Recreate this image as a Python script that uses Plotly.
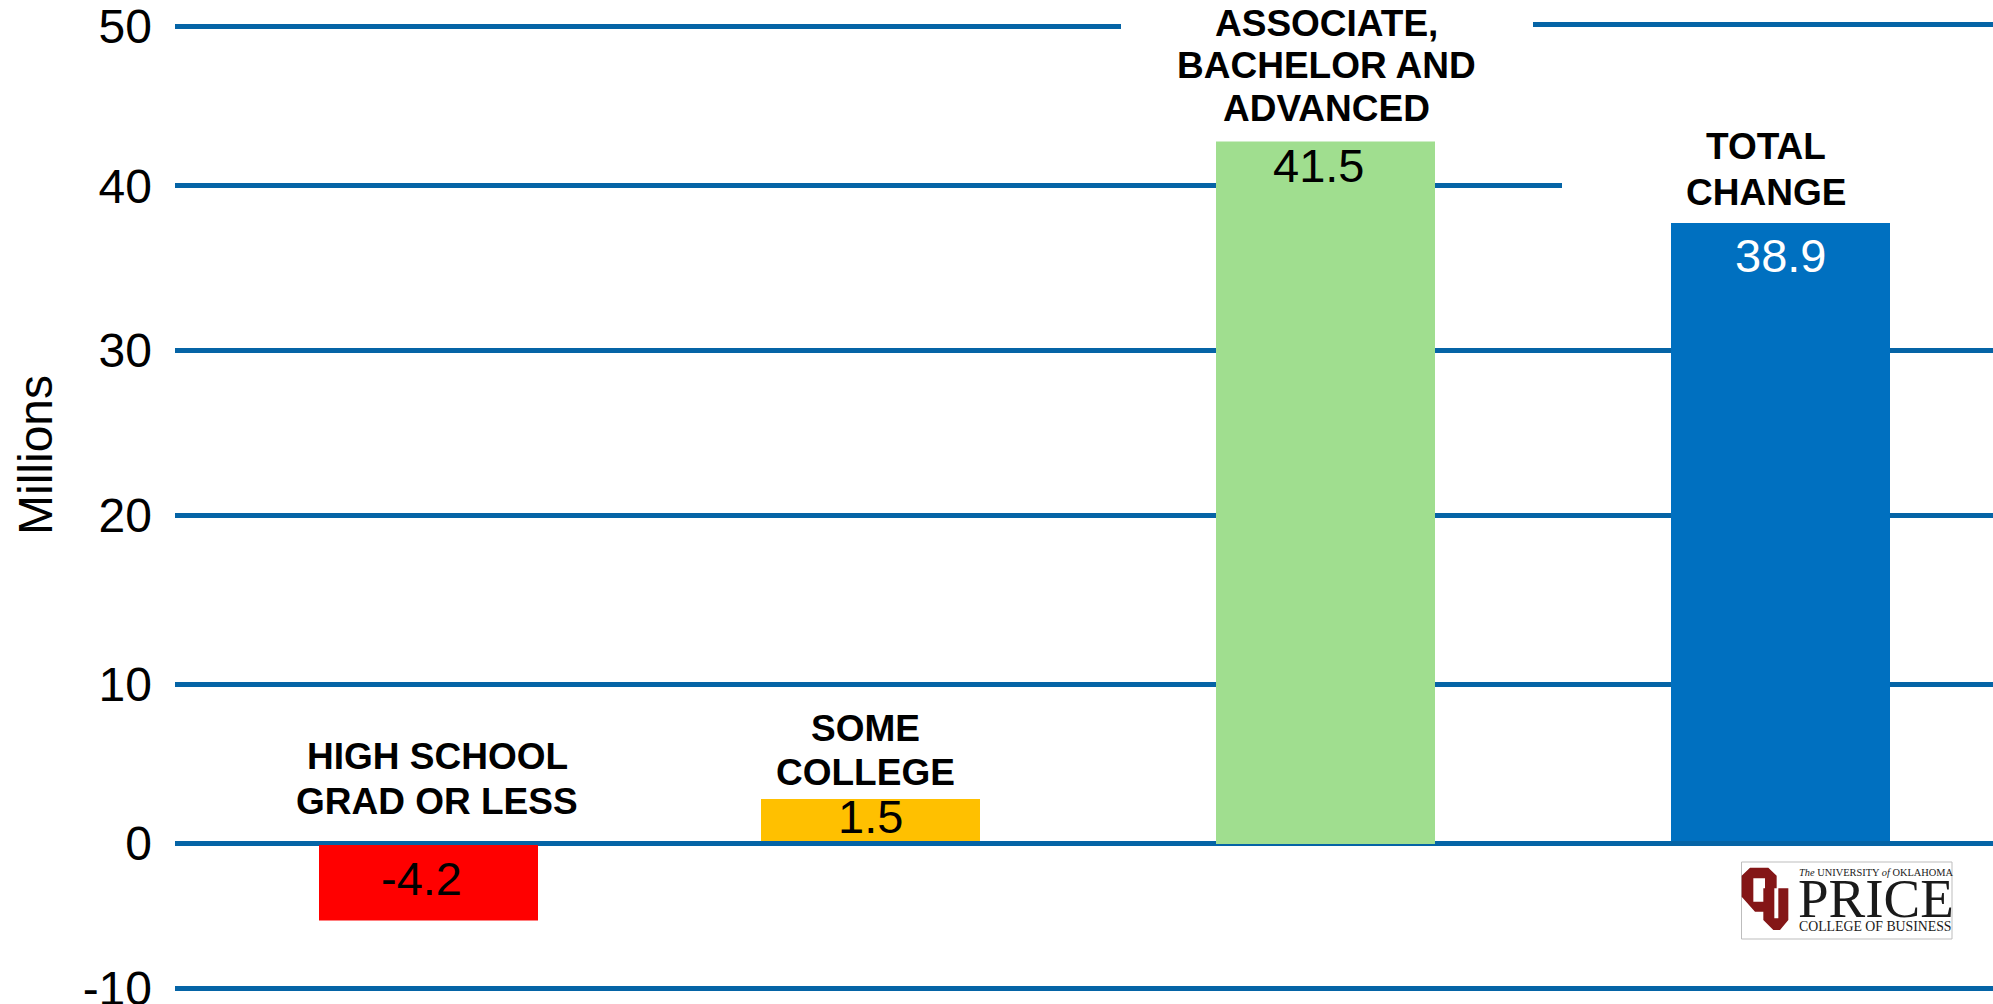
import plotly.graph_objects as go

# Values as printed on the slide, and the heights the bars are actually drawn to
# (the slide's bars and gridlines do not line up exactly with its printed numbers).
categories = ['High school', 'Some college', 'Associate plus', 'Total']
value_labels = ['-4.2', '1.5', '41.5', '38.9']
bar_heights = [-4.63, 2.57, 42.99, 37.82]
bar_bases = [-0.09, 0.15, -0.03, 0.15]
bar_colors = ['#FF0000', '#FFC000', '#A0DE8F', '#0070C0']
value_colors = ['black', 'black', 'black', 'white']
label_lines = [
    ['HIGH SCHOOL', 'GRAD OR LESS'],
    ['SOME', 'COLLEGE'],
    ['ASSOCIATE,', 'BACHELOR AND', 'ADVANCED'],
    ['TOTAL', 'CHANGE'],
]

# The gridlines on the slide are unevenly spaced.
tick_labels = ['-10', '0', '10', '20', '30', '40', '50']
tick_positions = [-8.87, 0, 9.75, 20.1, 30.2, 40.25, 50]

WIDTH, HEIGHT = 1993, 1004
LEFT = 175
ZERO_PX = 843.5
PX_PER_UNIT = 16.34
CAT_STEP = 455
CAT_ZERO_PX = 415.5
BAR_WIDTH = 219 / CAT_STEP
FONT = 'Liberation Sans'
SERIF = 'Liberation Serif'
GRID = '#0564A6'
LOGO_RED = '#841617'


def px_x(x):
    return (x - LEFT) / (WIDTH - LEFT)


def px_y(y):
    return 1 - y / HEIGHT


def val_y(y):
    return (ZERO_PX - y) / PX_PER_UNIT


def logo_path(*rings):
    # Rings are in 1/3 pixel units, measured from the logo's corner.
    parts = []
    for ring in rings:
        pts = [f'{px_x(1735 + x / 3):.5f},{px_y(855 + y / 3):.5f}' for x, y in ring]
        parts.append('M ' + ' L '.join(pts) + ' Z')
    return ' '.join(parts)


# Bar 0 sits 13px to the right of the even category spacing.
offsets = [-BAR_WIDTH / 2 + 13 / CAT_STEP, -BAR_WIDTH / 2, -BAR_WIDTH / 2, -BAR_WIDTH / 2]

fig = go.Figure(
    go.Bar(
        x=categories,
        y=bar_heights,
        base=bar_bases,
        width=BAR_WIDTH,
        offset=offsets,
        marker=dict(color=bar_colors, line=dict(width=0)),
        showlegend=False,
        hoverinfo='skip',
    )
)

# Printed values, shifted in pixels from the top of each bar.
value_px = [(421, 878), (870, 816), (1318, 165), (1780, 255)]
for i, text in enumerate(value_labels):
    fig.add_annotation(
        xref='x', yref='y', x=categories[i], y=val_y(value_px[i][1]),
        xshift=value_px[i][0] - (CAT_ZERO_PX + CAT_STEP * i),
        text=text, showarrow=False,
        font=dict(family=FONT, size=47, color=value_colors[i]),
    )

# Bold category labels, one annotation per line for the tight leading.
label_px = [(437, [756, 801]), (865, [728, 772]), (1326, [23, 65, 108]), (1766, [146, 192])]
for i, lines in enumerate(label_lines):
    for line, y in zip(lines, label_px[i][1]):
        fig.add_annotation(
            xref='x', yref='y', x=categories[i], y=val_y(y),
            xshift=label_px[i][0] - (CAT_ZERO_PX + CAT_STEP * i),
            text=f'<b>{line}</b>', showarrow=False,
            font=dict(family=FONT, size=37, color='black'),
        )

# Axis title sits above the middle of the axis on the slide.
fig.add_annotation(
    xref='paper', yref='paper', x=px_x(35), y=px_y(455), xanchor='center', yanchor='middle',
    textangle=-90, text='Millions', showarrow=False,
    font=dict(family=FONT, size=48, color='black'),
)

shapes = [
    # White text boxes on the slide that cut the two top gridlines.
    dict(type='rect', xref='paper', yref='y', x0=px_x(1121), x1=1, y0=49.6, y1=50.6,
         fillcolor='white', line=dict(width=0)),
    dict(type='rect', xref='paper', yref='y', x0=px_x(1562), x1=1, y0=39.9, y1=40.6,
         fillcolor='white', line=dict(width=0)),
    dict(type='line', xref='paper', yref='y', x0=px_x(1533), x1=1, y0=50.13, y1=50.13,
         line=dict(color=GRID, width=5)),
    # Logo box and monogram.
    dict(type='rect', xref='paper', yref='paper', x0=px_x(1741.5), x1=px_x(1952),
         y0=px_y(939), y1=px_y(862), fillcolor='white', line=dict(color='#BDBDBD', width=1)),
    dict(type='path', xref='paper', yref='paper', fillcolor=LOGO_RED, line=dict(width=0),
         path=logo_path(
             [(45, 38), (100, 38), (125, 62), (125, 100), (118, 100), (118, 190), (130, 190),
              (130, 100), (160, 100), (160, 195), (135, 225), (115, 225), (85, 195), (85, 170),
              (60, 170), (20, 125), (20, 62)],
             [(55, 70), (55, 140), (85, 140), (85, 100), (90, 100), (90, 70)],
         )),
]

logo_texts = [
    ('<i>The</i> UNIVERSITY <i>of</i> OKLAHOMA', 1798, 872, 10.4),
    ('PRICE', 1797, 898, 55),
    ('COLLEGE OF BUSINESS', 1798, 926, 13.8),
]
for text, x, y, size in logo_texts:
    fig.add_annotation(
        xref='paper', yref='paper', x=px_x(x), y=px_y(y), xanchor='left', yanchor='middle',
        text=text, showarrow=False, borderpad=0,
        font=dict(family=SERIF, size=size, color='#1a1a1a'),
    )

fig.update_layout(
    width=WIDTH,
    height=HEIGHT,
    plot_bgcolor='white',
    paper_bgcolor='white',
    margin=dict(t=0, r=0, b=0, l=LEFT, pad=0),
    font=dict(family=FONT, size=48, color='black'),
    shapes=shapes,
    xaxis=dict(
        type='category',
        categoryorder='array',
        categoryarray=categories,
        range=[(LEFT - CAT_ZERO_PX) / CAT_STEP, (WIDTH - CAT_ZERO_PX) / CAT_STEP],
        automargin=False,
        showticklabels=False,
        showgrid=False,
        zeroline=False,
        showline=False,
        ticks='',
    ),
    yaxis=dict(
        range=[-(HEIGHT - ZERO_PX) / PX_PER_UNIT, ZERO_PX / PX_PER_UNIT],
        automargin=False,
        tickmode='array',
        tickvals=tick_positions,
        ticktext=tick_labels,
        showgrid=True,
        gridcolor=GRID,
        gridwidth=5,
        zeroline=False,
        showline=False,
        ticklabelstandoff=22,
        ticklabeloverflow='allow',
        tickfont=dict(family=FONT, size=48, color='black'),
    ),
)

fig.write_html(
    'out.html',
    config={'displayModeBar': False},
    post_script='document.body.style.margin = "0";',
)
